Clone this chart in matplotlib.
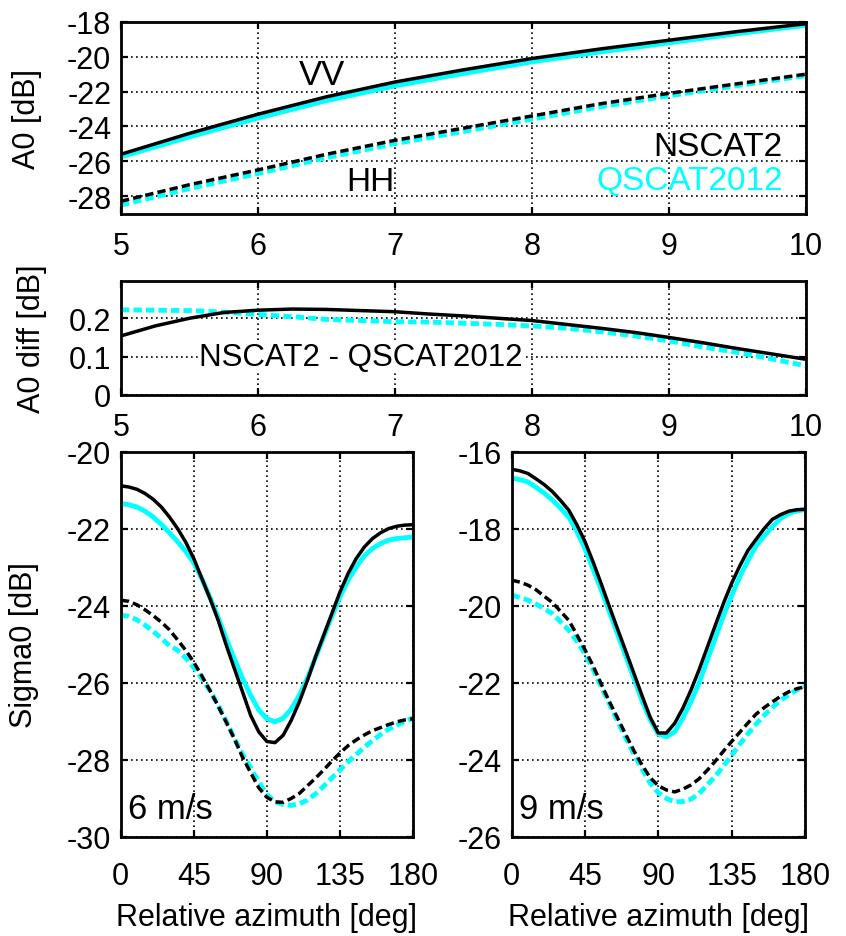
import matplotlib
matplotlib.use("Agg")
import matplotlib.pyplot as plt

plt.rcParams['font.family'] = ['Liberation Sans', 'DejaVu Sans']
plt.rcParams['axes.unicode_minus'] = False

# ---- data: A0 vs wind speed ----
speed = [5, 5.5, 6, 6.5, 7, 7.5, 8, 8.5, 9, 9.5, 10]
vv_nscat = [-25.6, -24.4, -23.3, -22.3, -21.45, -20.75, -20.1, -19.55, -19.05, -18.55, -18.1]
vv_qscat = [-25.75, -24.6, -23.52, -22.52, -21.67, -20.96, -20.29, -19.72, -19.2, -18.67, -18.19]
hh_nscat = [-28.3, -27.35, -26.5, -25.6, -24.8, -24.1, -23.4, -22.7, -22.1, -21.55, -21.0]
hh_qscat = [-28.52, -27.57, -26.71, -25.8, -24.99, -24.29, -23.58, -22.87, -22.24, -21.66, -21.08]

# ---- data: A0 difference (NSCAT2 - QSCAT2012) ----
speed_fine = [5, 5.25, 5.5, 5.75, 6, 6.25, 6.5, 6.75, 7, 7.25, 7.5, 7.75, 8, 8.25, 8.5, 8.75,
              9, 9.25, 9.5, 9.75, 10]
diff_vv = [0.154, 0.18, 0.2, 0.215, 0.221, 0.224, 0.223, 0.22, 0.217, 0.211, 0.206, 0.2,
           0.194, 0.184, 0.174, 0.163, 0.15, 0.136, 0.121, 0.107, 0.093]
diff_hh = [0.222, 0.221, 0.22, 0.216, 0.21, 0.204, 0.197, 0.194, 0.191, 0.19, 0.187, 0.184,
           0.18, 0.174, 0.165, 0.154, 0.141, 0.125, 0.111, 0.094, 0.076]

# ---- data: sigma0 vs relative azimuth (every 5 deg) ----
azimuth = [0, 5, 10, 15, 20, 25, 30, 35, 40, 45, 50, 55, 60, 65, 70, 75, 80, 85, 90,
           95, 100, 105, 110, 115, 120, 125, 130, 135, 140, 145, 150, 155, 160, 165, 170, 175, 180]

vv6_nscat = [-20.88, -20.91, -20.97, -21.08, -21.23, -21.43, -21.69, -21.99, -22.34, -22.77,
             -23.29, -23.81, -24.37, -25.02, -25.63, -26.23, -26.84, -27.27, -27.52,
             -27.55, -27.36, -26.97, -26.49, -25.93, -25.32, -24.76, -24.2, -23.64, -23.16,
             -22.77, -22.47, -22.25, -22.1, -21.99, -21.93, -21.9, -21.89]
vv6_qscat = [-21.34, -21.37, -21.43, -21.54, -21.69, -21.88, -22.1, -22.33, -22.58, -22.88,
             -23.3, -23.78, -24.3, -24.85, -25.38, -25.88, -26.32, -26.7, -26.93,
             -27.01, -26.92, -26.68, -26.32, -25.87, -25.34, -24.8, -24.27, -23.77, -23.33,
             -22.99, -22.7, -22.51, -22.38, -22.29, -22.25, -22.23, -22.21]
hh6_nscat = [-23.85, -23.88, -23.97, -24.1, -24.25, -24.42, -24.62, -24.88, -25.15, -25.46,
             -25.82, -26.2, -26.6, -27.02, -27.45, -27.93, -28.33, -28.72, -28.97,
             -29.09, -29.1, -29.0, -28.87, -28.67, -28.47, -28.26, -28.03, -27.82, -27.63,
             -27.48, -27.35, -27.24, -27.16, -27.08, -27.01, -26.96, -26.93]
hh6_qscat = [-24.24, -24.27, -24.36, -24.5, -24.66, -24.84, -25.03, -25.15, -25.35, -25.6,
             -25.88, -26.2, -26.58, -27.0, -27.44, -27.85, -28.2, -28.57, -28.9,
             -29.08, -29.16, -29.18, -29.14, -29.04, -28.88, -28.68, -28.47, -28.26, -28.05,
             -27.86, -27.67, -27.5, -27.34, -27.2, -27.1, -27.0, -26.91]

vv9_nscat = [-16.45, -16.49, -16.56, -16.7, -16.85, -17.03, -17.26, -17.51, -17.89, -18.33,
             -18.86, -19.43, -20.02, -20.6, -21.17, -21.75, -22.33, -22.89, -23.3,
             -23.3, -23.05, -22.66, -22.19, -21.66, -21.08, -20.5, -19.93, -19.41, -18.96,
             -18.56, -18.27, -17.99, -17.75, -17.63, -17.54, -17.5, -17.49]
vv9_qscat = [-16.68, -16.72, -16.78, -16.92, -17.07, -17.25, -17.46, -17.69, -18.06, -18.51,
             -19.04, -19.59, -20.15, -20.73, -21.3, -21.88, -22.46, -22.95, -23.33,
             -23.4, -23.27, -22.92, -22.48, -22.0, -21.41, -20.83, -20.25, -19.73, -19.24,
             -18.82, -18.44, -18.18, -17.94, -17.73, -17.6, -17.53, -17.5]
hh9_nscat = [-19.33, -19.38, -19.46, -19.58, -19.75, -19.91, -20.14, -20.37, -20.75, -21.14,
             -21.56, -22.03, -22.49, -22.91, -23.34, -23.76, -24.13, -24.46, -24.67,
             -24.78, -24.83, -24.76, -24.65, -24.49, -24.27, -24.03, -23.77, -23.52, -23.28,
             -23.04, -22.81, -22.64, -22.49, -22.35, -22.23, -22.15, -22.1]
hh9_qscat = [-19.72, -19.78, -19.85, -19.95, -20.07, -20.2, -20.41, -20.63, -20.91, -21.25,
             -21.65, -22.1, -22.54, -22.99, -23.43, -23.85, -24.23, -24.6, -24.85,
             -25.0, -25.09, -25.08, -25.02, -24.87, -24.65, -24.42, -24.16, -23.88, -23.59,
             -23.32, -23.07, -22.84, -22.64, -22.45, -22.31, -22.18, -22.1]

speed_ticks = [5, 6, 7, 8, 9, 10]
az_ticks = [0, 45, 90, 135, 180]

CYAN = '#00FFFF'
LW_K = 2.5
LW_C = 3.5
FS = 22


def dashed(lw):
    return (0, (6.0 / lw, 3.0 / lw))


fig = plt.figure(figsize=(8.46, 9.37), dpi=100)


def style(ax, xpad=12):
    for s in ax.spines.values():
        s.set_linewidth(2.0)
    ax.tick_params(direction='in', top=True, right=True, length=5, width=1.6,
                   labelsize=FS)
    ax.tick_params(axis='x', pad=xpad)
    ax.tick_params(axis='y', pad=7)
    ax.grid(True, color='black', linestyle=(0, (1, 2)), linewidth=1.2)
    ax.set_axisbelow(True)


def pair(ax, x, yn, yq, dash):
    if dash:
        ax.plot(x, yq, color=CYAN, lw=LW_C, linestyle=dashed(LW_C))
        ax.plot(x, yn, color='black', lw=LW_K, linestyle=dashed(LW_K))
    else:
        ax.plot(x, yq, color=CYAN, lw=LW_C)
        ax.plot(x, yn, color='black', lw=LW_K)


# ---- top panel ----
ax1 = fig.add_axes([0.1430, 0.7706, 0.8097, 0.2049])
pair(ax1, speed, vv_nscat, vv_qscat, False)
pair(ax1, speed, hh_nscat, hh_qscat, True)
ax1.set_xlim(5, 10)
ax1.set_ylim(-29.03, -18)
ax1.set_xticks(speed_ticks)
ax1.set_yticks([-28, -26, -24, -22, -20, -18])
style(ax1)
ax1.set_ylabel('A0 [dB]', fontsize=FS, va='center')
ax1.yaxis.set_label_coords(-0.137, 0.5)
ax1.text(6.47, -21.0, 'VV', fontsize=25, ha='center', va='center')
ax1.text(6.82, -27.14, 'HH', fontsize=24, ha='center', va='center')
ax1.text(9.83, -25.13, 'NSCAT2', fontsize=24, ha='right', va='center', color='black')
ax1.text(9.83, -27.08, 'QSCAT2012', fontsize=24, ha='right', va='center', color=CYAN)

# ---- middle panel ----
ax2 = fig.add_axes([0.1430, 0.5774, 0.8097, 0.1220])
ax2.plot(speed_fine, diff_hh, color=CYAN, lw=LW_C, linestyle=dashed(LW_C))
ax2.plot(speed_fine, diff_vv, color='black', lw=LW_K)
ax2.set_xlim(5, 10)
ax2.set_ylim(0, 0.298)
ax2.set_xticks(speed_ticks)
ax2.set_yticks([0, 0.1, 0.2])
ax2.set_yticklabels(['0', '0.1', '0.2'])
style(ax2)
ax2.set_ylabel('A0 diff [dB]', fontsize=FS, va='center')
ax2.yaxis.set_label_coords(-0.13, 0.5)
ax2.text(6.75, 0.1, 'NSCAT2 - QSCAT2012', fontsize=22.5, ha='center', va='center',
         bbox=dict(facecolor='white', edgecolor='none', pad=1))


# ---- bottom panels ----
def bottom(rect, vvn, vvq, hhn, hhq, ylim, yticks, label):
    ax = fig.add_axes(rect)
    pair(ax, azimuth, vvn, vvq, False)
    pair(ax, azimuth, hhn, hhq, True)
    ax.set_xlim(0, 180)
    ax.set_ylim(*ylim)
    ax.set_xticks(az_ticks)
    ax.set_yticks(yticks)
    style(ax, xpad=17)
    ax.set_xlabel('Relative azimuth [deg]', fontsize=FS, labelpad=8)
    ax.text(0.025, 0.073, label, transform=ax.transAxes, fontsize=25,
            ha='left', va='center')
    return ax


ax3 = bottom([0.1427, 0.1057, 0.3455, 0.4109], vv6_nscat, vv6_qscat, hh6_nscat, hh6_qscat,
             (-30, -20), [-30, -28, -26, -24, -22, -20], '6 m/s')
ax3.set_ylabel('Sigma0 [dB]', fontsize=FS, va='center')
ax3.yaxis.set_label_coords(-0.33, 0.5)
ax4 = bottom([0.6048, 0.1057, 0.3467, 0.4109], vv9_nscat, vv9_qscat, hh9_nscat, hh9_qscat,
             (-26, -16), [-26, -24, -22, -20, -18, -16], '9 m/s')

fig.savefig('out.png', dpi=100)
